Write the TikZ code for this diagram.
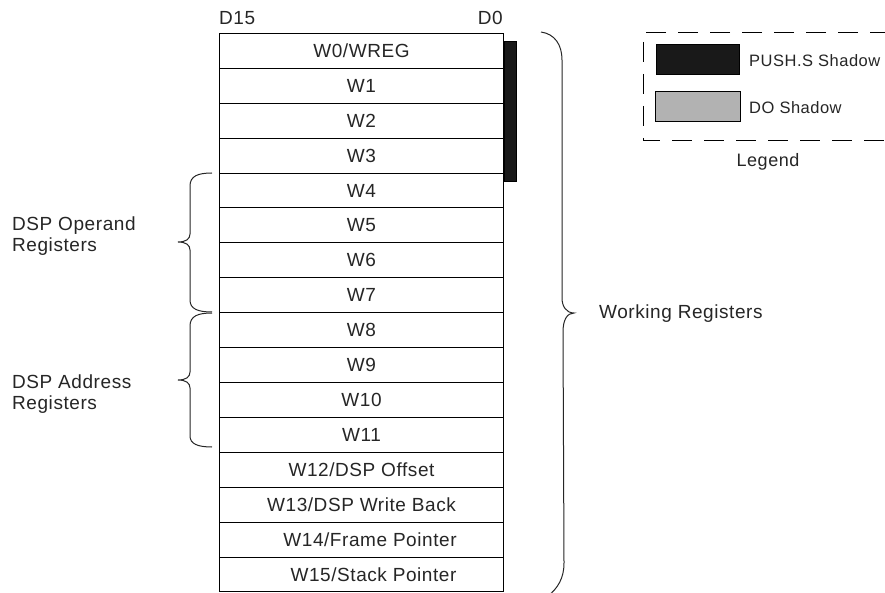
\documentclass[tikz,border=0pt]{standalone}
\usepackage{fontspec}
\setmainfont{Liberation Sans}[LetterSpace=3]
\begin{document}
\begin{tikzpicture}[x=1pt,y=-1pt,
  reg/.style={draw, line width=1pt, minimum width=284pt, minimum height=34.9pt, inner sep=0pt, anchor=north west, font=\fontsize{19}{20}\selectfont, text=black!85},
  lbl/.style={font=\fontsize{19}{21.5}\selectfont, text=black!85, align=left, inner sep=0pt},
  leglbl/.style={font=\fontsize{16.5}{19}\selectfont, text=black!85, inner sep=0pt, anchor=west},
  bracepath/.style={line width=1pt, draw=black!85}]
\useasboundingbox (0,0) rectangle (885,593);
\fill[white] (0,0) rectangle (885,593);
% registers
\foreach \t [count=\i from 0] in {W0/WREG,W1,W2,W3,W4,W5,W6,W7,W8,W9,W10,W11,W12/DSP Offset,W13/DSP Write Back,{\hspace*{17pt}W14/Frame Pointer},{\hspace*{24pt}W15/Stack Pointer}}
  \node[reg] (r\i) at (219,{33+34.9*\i}) {\t};
% header
\node[lbl, anchor=west] (d15) at (219,18) {D15};
\node[lbl, anchor=east] (d0) at (503,18) {D0};
% push.s shadow bar
\filldraw[fill=black!90, draw=black, line width=0.8pt] (r0.north east |- 0,41) rectangle (516,181);
% left braces
\draw[bracepath] (212,173) .. controls (198,173) and (190,176) .. (190,186) -- (190,234) .. controls (190,239) and (186,242) .. (178,242) .. controls (186,242) and (190,245) .. (190,250) -- (190,300) .. controls (190,309) and (198,312) .. (212,312);
\draw[bracepath] (212,313) .. controls (198,313) and (190,316) .. (190,326) -- (190,372) .. controls (190,377) and (186,380) .. (178,380) .. controls (186,380) and (190,383) .. (190,388) -- (190,436) .. controls (190,444) and (198,447) .. (212,447);
\node[lbl, anchor=west] (op) at (12,236) {DSP Operand\\Registers};
\node[lbl, anchor=west] (ad) at (12,394) {DSP Address\\Registers};
% right brace
\draw[bracepath] (541,32) .. controls (555,34) and (562,45) .. (562,60) -- (562,298) .. controls (562,306) and (566,313) .. (574,313) .. controls (567,313) and (563,320) .. (563,332) -- (564,563) .. controls (564,578) and (558,588) .. (548,596);
\node[lbl, anchor=west] (wr) at (599,314) {Working Registers};
% legend
\draw[line width=1pt, dash pattern=on 20pt off 12pt] (890,33) -- (643,33) -- (643,141) -- (890,141);
\filldraw[fill=black!90, draw=black, line width=0.8pt] (656,44) rectangle (739,74);
\node[leglbl] (lp) at (749,61) {PUSH.S Shadow};
\filldraw[fill=black!30, draw=black, line width=0.8pt] (655,91) rectangle (740,121);
\node[leglbl] (ld) at (749,108) {DO Shadow};
\node[lbl, anchor=center, font=\fontsize{18}{20}\selectfont] (lg) at (768,162) {Legend};
\end{tikzpicture}
\end{document}
